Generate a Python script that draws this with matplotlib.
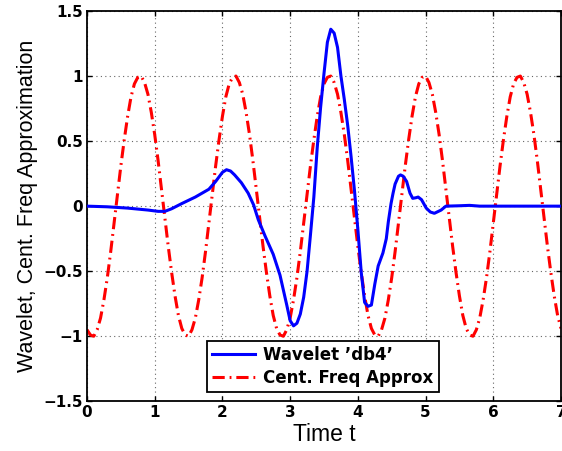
import matplotlib
matplotlib.use("Agg")
import matplotlib.pyplot as plt

# ---- data ----
wave_t = [0.0, 0.3, 0.6, 0.9, 1.05, 1.15, 1.25, 1.4, 1.6, 1.8, 1.9, 2.0, 2.06, 2.12,
          2.18, 2.28, 2.38, 2.46, 2.53, 2.63, 2.75, 2.85, 2.95, 3.0, 3.05, 3.1, 3.15,
          3.2, 3.25, 3.3, 3.35, 3.4, 3.45, 3.5, 3.55, 3.6, 3.65, 3.7, 3.75, 3.8, 3.85,
          3.9, 3.95, 4.0, 4.05, 4.1, 4.15, 4.2, 4.25, 4.3, 4.37, 4.42, 4.45, 4.49,
          4.52, 4.55, 4.6, 4.63, 4.67, 4.72, 4.77, 4.81, 4.86, 4.89, 4.94, 5.01, 5.07,
          5.13, 5.23, 5.3, 5.5, 5.65, 5.8, 7.0]
wave_y = [0.0, -0.005, -0.015, -0.03, -0.04, -0.04, -0.02, 0.02, 0.07, 0.13, 0.19, 0.26,
          0.28, 0.27, 0.24, 0.18, 0.1, 0.01, -0.105, -0.23, -0.37, -0.53, -0.76, -0.88,
          -0.92, -0.9, -0.83, -0.7, -0.5, -0.22, 0.07, 0.45, 0.76, 1.02, 1.26, 1.36,
          1.33, 1.22, 1.0, 0.82, 0.62, 0.38, 0.12, -0.18, -0.51, -0.74, -0.77, -0.76,
          -0.6, -0.46, -0.36, -0.25, -0.12, 0.02, 0.1, 0.17, 0.23, 0.24, 0.23, 0.19,
          0.1, 0.06, 0.065, 0.07, 0.05, -0.015, -0.045, -0.055, -0.03, 0.0, 0.003,
          0.006, 0.0, 0.0]

approx_t = [round(0.05 * i, 2) for i in range(141)]
approx_y = [
    -0.95, -0.99, -1.0, -0.95, -0.86, -0.72, -0.55, -0.35, -0.13, 0.09, 0.31, 0.51,
    0.69, 0.84, 0.94, 0.99, 1.0, 0.95, 0.86, 0.72, 0.55, 0.35, 0.13, -0.09, -0.31,
    -0.51, -0.69, -0.84,
    -0.94, -0.99, -1.0, -0.95, -0.86, -0.72, -0.55, -0.35, -0.13, 0.09, 0.31, 0.51,
    0.69, 0.84, 0.94, 0.99, 1.0, 0.95, 0.86, 0.72, 0.55, 0.35, 0.13, -0.09, -0.31,
    -0.51, -0.69, -0.84,
    -0.94, -0.99, -1.0, -0.95, -0.86, -0.72, -0.55, -0.35, -0.13, 0.09, 0.31, 0.51,
    0.69, 0.84, 0.94, 0.99, 1.0, 0.95, 0.86, 0.72, 0.55, 0.35, 0.13, -0.09, -0.31,
    -0.51, -0.69, -0.84,
    -0.94, -0.99, -1.0, -0.95, -0.86, -0.72, -0.55, -0.35, -0.13, 0.09, 0.31, 0.51,
    0.69, 0.84, 0.94, 0.99, 1.0, 0.95, 0.86, 0.72, 0.55, 0.35, 0.13, -0.09, -0.31,
    -0.51, -0.69, -0.84,
    -0.94, -0.99, -1.0, -0.95, -0.86, -0.72, -0.55, -0.35, -0.13, 0.09, 0.31, 0.51,
    0.69, 0.84, 0.94, 0.99, 1.0, 0.95, 0.86, 0.72, 0.55, 0.35, 0.13, -0.09, -0.31,
    -0.51, -0.69, -0.84,
    -0.94]

x_ticks = [0, 1, 2, 3, 4, 5, 6, 7]
y_ticks = [-1.5, -1, -0.5, 0, 0.5, 1, 1.5]
y_tick_labels = ["\u22121.5", "\u22121", "\u22120.5", "0", "0.5", "1", "1.5"]

labels = ["Wavelet \u2019db4\u2019", "Cent. Freq Approx"]

# ---- figure ----
fig = plt.figure(figsize=(5.62, 4.51), dpi=100)
ax = fig.add_axes([87 / 562, 1 - 401.3 / 451, (561 - 87) / 562, (401.3 - 11) / 451])

ax.plot(wave_t, wave_y, color="#0000ff", lw=2.2, label=labels[0], zorder=3)
ax.plot(approx_t, approx_y, color="#ff0000", lw=2.2, dashes=[4, 1.6, 0.6, 1.6],
        label=labels[1], zorder=2)

ax.set_xlim(0, 7)
ax.set_ylim(-1.5, 1.5)
ax.set_xticks(x_ticks)
ax.set_yticks(y_ticks)
ax.set_yticklabels(y_tick_labels)

for lab in ax.get_xticklabels() + ax.get_yticklabels():
    lab.set_fontfamily("DejaVu Sans")
    lab.set_fontweight("bold")
    lab.set_fontsize(11)

ax.tick_params(direction="in", length=3.5, width=1, top=True, right=True, pad=3)
ax.grid(True, linestyle=(0, (1, 3)), color="0.4", lw=0.8)
for s in ax.spines.values():
    s.set_linewidth(1.3)

ax.set_xlabel("Time t", fontsize=16.5, family="Liberation Sans", labelpad=2)
ax.set_ylabel("Wavelet, Cent. Freq Approximation", fontsize=15.5,
              family="Liberation Sans", labelpad=4)

leg = ax.legend(loc="lower left", bbox_to_anchor=(0.2525, 0.0246), borderaxespad=0,
                prop={"family": "DejaVu Sans", "weight": "bold", "size": 12},
                fancybox=False, framealpha=1, edgecolor="black", handlelength=2.6,
                handletextpad=0.5, borderpad=0.3, labelspacing=0.3)
leg.get_frame().set_linewidth(1.3)

fig.savefig("out.png", dpi=100)
